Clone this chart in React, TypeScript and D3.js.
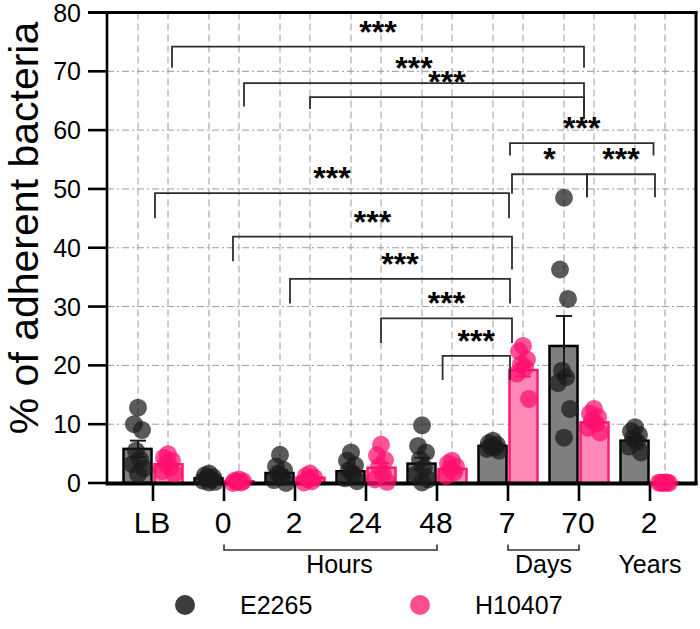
import React from "react";
import * as d3 from "d3";

// Time points (x categories) and their tick labels
const categories = ["LB", "0h", "2h", "24h", "48h", "7d", "70d", "2y"];
const tickLabels = ["LB", "0", "2", "24", "48", "7", "70", "2"];
const seriesNames = ["E2265", "H10407"];

// Bar heights (mean) and error half-widths per strain
const meanE2265 = [5.8, 0.8, 1.7, 2.0, 3.3, 6.3, 23.3, 7.2];
const errE2265 = [1.4, 0.3, 0.5, 0.6, 1.0, 0.3, 5.1, 0.6];
const meanH10407 = [3.2, 0.3, 0.9, 2.6, 2.4, 19.2, 10.3, 0.05];
const errH10407 = [0.5, 0.1, 0.2, 0.8, 0.3, 1.1, 0.5, 0.02];

// Individual replicate values per time point
const pointsE2265 = [
  [12.8, 10.0, 9.0, 5.5, 4.0, 3.2, 2.5, 1.5],
  [1.6, 1.3, 1.0, 0.8, 0.6, 0.4, 0.2, 0.1],
  [4.8, 2.8, 2.2, 1.6, 1.0, 0.5, 0.0],
  [5.2, 3.8, 3.0, 2.2, 1.5, 0.8, 0.3],
  [9.8, 6.3, 5.2, 4.0, 2.6, 1.5, 0.6, 0.1],
  [7.2, 6.8, 6.5, 6.2, 6.0, 5.8, 5.5],
  [48.5, 36.3, 31.3, 19.1, 18.0, 17.0, 12.6, 7.7],
  [9.5, 8.8, 8.2, 7.6, 7.0, 6.2, 5.2],
];
const pointsH10407 = [
  [4.9, 4.3, 3.8, 3.2, 2.6, 2.0, 1.6],
  [0.6, 0.4, 0.3, 0.2, 0.1, 0.0],
  [1.6, 1.2, 0.9, 0.6, 0.3, 0.1],
  [6.5, 4.7, 3.9, 2.8, 1.6, 0.6, 0.2],
  [3.8, 3.3, 2.8, 2.4, 1.8, 1.2],
  [23.3, 22.4, 21.0, 20.2, 19.6, 18.6, 14.3],
  [12.6, 11.8, 11.2, 10.6, 10.1, 9.4, 8.6],
  [0.1, 0.05, 0.0, 0.0, 0.1, 0.05],
];

const yTicks = [0, 10, 20, 30, 40, 50, 60, 70, 80];

// Time-unit groupings under the axis
const unitGroups = [
  { text: "Hours", from: "0h", to: "48h" },
  { text: "Days", from: "7d", to: "70d" },
  { text: "Years", from: "2y", to: "2y" },
];

// Pairwise comparisons: endpoints, bracket level / leg ends (data units), label
const comparisons = [
  { a: "LB", b: "70d", da: 19, db: 5, level: 74.2, legA: 70.6, legB: 70.6, label: "***" },
  { a: "0h", b: "70d", da: 20, db: 5, level: 68.0, legA: 64.0, legB: 61.9, label: "***" },
  { a: "2h", b: "70d", da: 15, db: 5, level: 65.6, legA: 63.6, legB: 61.9, label: "***" },
  { a: "7d", b: "2y", da: 2, db: 3.5, level: 57.8, legA: 55.7, legB: 55.7, label: "***" },
  { a: "7d", b: "70d", da: 4, db: 8, level: 52.5, legA: 49.2, legB: 48.6, label: "*" },
  { a: "70d", b: "2y", da: 8, db: 5, level: 52.5, legA: 48.6, legB: 48.6, label: "***" },
  { a: "LB", b: "7d", da: 2, db: 1, level: 49.3, legA: 45.0, legB: 45.0, label: "***" },
  { a: "0h", b: "7d", da: 9, db: 4, level: 41.9, legA: 37.7, legB: 36.3, label: "***" },
  { a: "2h", b: "7d", da: -5, db: 2, level: 34.7, legA: 30.5, legB: 30.5, label: "***" },
  { a: "24h", b: "7d", da: 15, db: 4, level: 28.0, legA: 23.8, legB: 23.8, label: "***" },
  { a: "48h", b: "7d", da: 5.6, db: 2, level: 21.6, legA: 17.5, legB: 17.5, label: "***" },
];

const W = 700;
const H = 629;
const FONT = "'Liberation Sans', Arial, Helvetica, sans-serif";

const x = d3.scalePoint<string>().domain(categories).range([153, 650]);
const y = d3.scaleLinear().domain([0, 80]).range([483, 12.5]);

const LEFT = 107;
const RIGHT = 696;
const R = 9;

const jitter = [0, -4, 4, -2, 2, -6, 6, 0, -3];

const black = { bar: "#7f7f7f", stroke: "#000", pt: "#1b1b1b", legend: "#3d3d3d" };
const pink = { bar: "#ff88b6", stroke: "#ff1a75", pt: "#ff0f6f", legend: "#ff4d8d" };

export default function App() {
  const barCenters: number[] = [];
  categories.forEach((c) => {
    barCenters.push((x(c) as number) - 15, (x(c) as number) + 15);
  });

  const series = [
    { mean: meanE2265, err: errE2265, pts: pointsE2265, col: black, off: -15 },
    { mean: meanH10407, err: errH10407, pts: pointsH10407, col: pink, off: 15 },
  ];

  return (
    <svg
      width={W}
      height={H}
      style={{ position: "absolute", left: 0, top: 0, background: "#fff" }}
      fontFamily={FONT}
    >
      {/* grid */}
      <g stroke="#9a9a9a" strokeWidth={1} fill="none">
        {yTicks.slice(1, -1).map((t) => (
          <line key={"h" + t} x1={LEFT} x2={RIGHT} y1={y(t)} y2={y(t)} strokeDasharray="7,3,2,3" />
        ))}
        {barCenters.map((bx, i) => (
          <line key={"v" + i} x1={bx} x2={bx} y1={y(80)} y2={y(0)} strokeDasharray="7,4" />
        ))}
      </g>

      {/* bars */}
      {series.map((s, si) =>
        categories.map((c, i) => {
          const cx = x(c) as number;
          const x0 = si === 0 ? cx - 29.5 : cx + 1.5;
          const top = y(s.mean[i]);
          return (
            <rect
              key={`b${si}-${i}`}
              x={x0}
              y={top}
              width={28}
              height={Math.max(0, y(0) - top)}
              fill={s.col.bar}
              stroke={s.col.stroke}
              strokeWidth={2.5}
            />
          );
        })
      )}

      {/* axes frame */}
      <g stroke="#000" fill="none">
        <line x1={LEFT} x2={LEFT} y1={y(80) - 1.5} y2={y(0) + 2} strokeWidth={2.6} />
        <line x1={88} x2={RIGHT + 1.5} y1={y(80)} y2={y(80)} strokeWidth={2.8} />
        <line x1={RIGHT} x2={RIGHT} y1={y(80) - 1.4} y2={y(0) + 2} strokeWidth={3} />
        <line x1={LEFT - 1.3} x2={RIGHT + 1.5} y1={y(0) + 0.5} y2={y(0) + 0.5} strokeWidth={3.8} />
        {yTicks.map((t) => (
          <line key={"yt" + t} x1={88} x2={LEFT} y1={y(t)} y2={y(t)} strokeWidth={2.6} />
        ))}
        {categories.map((c) => (
          <line key={"xt" + c} x1={x(c)} x2={x(c)} y1={y(0)} y2={501} strokeWidth={2.6} />
        ))}
      </g>

      {/* y tick labels */}
      {yTicks.map((t) => (
        <text key={"yl" + t} x={81} y={y(t)} dy="0.36em" textAnchor="end" fontSize={25} fill="#000">
          {t}
        </text>
      ))}

      {/* x tick labels */}
      {categories.map((c, i) => (
        <text key={"xl" + c} x={(x(c) as number) - 1} y={533} textAnchor="middle" fontSize={30} fill="#000">
          {tickLabels[i]}
        </text>
      ))}

      {/* time unit groupings */}
      {unitGroups.map((g) => {
        const a = x(g.from) as number;
        const b = x(g.to) as number;
        const mid = (a + b) / 2 + (g.text === "Hours" ? 9 : 0);
        return (
          <g key={g.text}>
            {a !== b && (
              <path
                d={`M${a},544.5V550H${b}V544.5`}
                fill="none"
                stroke="#333"
                strokeWidth={1.6}
              />
            )}
            <text x={mid} y={573} textAnchor="middle" fontSize={25} fill="#000">
              {g.text}
            </text>
          </g>
        );
      })}

      {/* error bars */}
      {series.map((s, si) =>
        categories.map((c, i) => {
          const bx = (x(c) as number) + s.off;
          const hi = y(s.mean[i] + s.err[i]);
          const lo = y(Math.max(0, s.mean[i] - s.err[i]));
          return (
            <g key={`e${si}-${i}`} stroke={si === 0 ? "#1a1a1a" : pink.stroke} strokeWidth={2}>
              <line x1={bx} x2={bx} y1={hi} y2={lo} />
              <line x1={bx - 8} x2={bx + 8} y1={hi} y2={hi} />
              <line x1={bx - 8} x2={bx + 8} y1={lo} y2={lo} />
            </g>
          );
        })
      )}

      {/* replicate points */}
      {series.map((s, si) =>
        s.pts.map((vals, i) =>
          vals.map((v, j) => (
            <circle
              key={`p${si}-${i}-${j}`}
              cx={(x(categories[i]) as number) + s.off + jitter[j % jitter.length]}
              cy={y(v)}
              r={R}
              fill={s.col.pt}
              fillOpacity={0.72}
            />
          ))
        )
      )}

      {/* significance brackets */}
      <g fill="none" stroke="#2e2e2e" strokeWidth={1.8}>
        {comparisons.map((k, i) => {
          const xa = (x(k.a) as number) + k.da;
          const xb = (x(k.b) as number) + k.db;
          return (
            <path
              key={"c" + i}
              d={`M${xa},${y(k.legA)}V${y(k.level)}H${xb}V${y(k.legB)}`}
            />
          );
        })}
      </g>
      {comparisons.map((k, i) => {
        const xa = (x(k.a) as number) + k.da;
        const xb = (x(k.b) as number) + k.db;
        return (
          <text
            key={"s" + i}
            x={(xa + xb) / 2}
            y={y(k.level) - 4}
            textAnchor="middle"
            fontSize={32}
            fontWeight="bold"
            fill="#000"
          >
            {k.label}
          </text>
        );
      })}

      {/* y axis title */}
      <text
        transform={`translate(38,228) rotate(-90)`}
        textAnchor="middle"
        fontSize={41}
        fill="#000"
      >
        % of adherent bacteria
      </text>

      {/* legend */}
      {seriesNames.map((n, i) => {
        const cx = i === 0 ? 185 : 420;
        return (
          <g key={n}>
            <circle cx={cx} cy={605} r={10} fill={i === 0 ? black.legend : pink.legend} />
            <text x={cx + 55} y={614} fontSize={25} fill="#000">
              {n}
            </text>
          </g>
        );
      })}
    </svg>
  );
}
